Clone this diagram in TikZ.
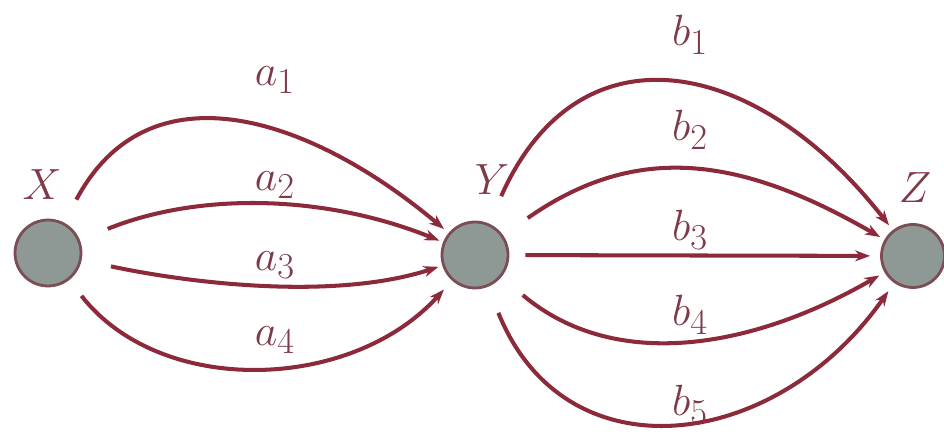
\documentclass[tikz,border=0pt]{standalone}
\usetikzlibrary{arrows.meta}
\definecolor{edgecol}{HTML}{8C2A3C}
\definecolor{dotfill}{HTML}{8E9995}
\definecolor{dotline}{HTML}{7B4D55}
\definecolor{txtcol}{HTML}{7D3A48}
\begin{document}
\begin{tikzpicture}[x=0.02cm,y=0.02cm,
  vert/.style={circle,draw=dotline,fill=dotfill,line width=1.6pt,minimum size=1.32cm,inner sep=0pt},
  lab/.style={text=txtcol,font=\fontsize{31}{36}\selectfont,inner sep=0pt},
  arc/.style={draw=edgecol,line width=2.3pt,-{Stealth[length=0.3cm,width=0.22cm]},shorten <=5.2mm}]
\useasboundingbox (0,0) rectangle (944,438);
\node[vert] (X) at (48,185) {};
\node[vert] (Y) at (475,183) {};
\node[vert,minimum size=1.26cm] (Z) at (913,182) {};
\node[lab] (lX) at (42,253) {$X$};
\node[lab] (lY) at (492,258) {$Y$};
\node[lab] (lZ) at (915,250) {$Z$};
\node[lab] (la1) at (275,358) {$a_1$};
\node[lab] (la2) at (275,253) {$a_2$};
\node[lab] (la3) at (275,173) {$a_3$};
\node[lab] (la4) at (275,98) {$a_4$};
\node[lab] (lb1) at (690,403) {$b_1$};
\node[lab] (lb2) at (690,308) {$b_2$};
\node[lab] (lb3) at (690,208) {$b_3$};
\node[lab] (lb4) at (690,123) {$b_4$};
\node[lab] (lb5) at (690,33) {$b_5$};
% X -> Y
\draw[arc,shorten >=1.2mm] (X) to[out=62,in=140,looseness=1.2] (Y);
\draw[arc,shorten <=6mm,shorten >=0.8mm] (X) to[out=22,in=158,looseness=0.9] (Y);
\draw[arc,shorten <=6mm,shorten >=0.8mm] (X) to[out=-12,in=198,looseness=0.8] (Y);
\draw[arc,shorten <=4mm,shorten >=2.4mm] (X) to[out=-52,in=228,looseness=1.0] (Y);
% Y -> Z
\draw[arc,shorten <=6mm,shorten >=1.2mm] (Y) to[out=66,in=128,looseness=1.4] (Z);
\draw[arc,shorten <=6mm,shorten >=1mm] (Y) to[out=35,in=150,looseness=1.1] (Z);
\draw[arc,shorten <=3.2mm,shorten >=2mm] (Y) -- (Z);
\draw[arc,shorten <=5.6mm,shorten >=1.2mm] (Y) to[out=-40,in=210,looseness=1.0] (Z);
\draw[arc,shorten <=5.6mm,shorten >=2mm] (Y) to[out=-68,in=235,looseness=1.3] (Z);
\end{tikzpicture}
\end{document}
